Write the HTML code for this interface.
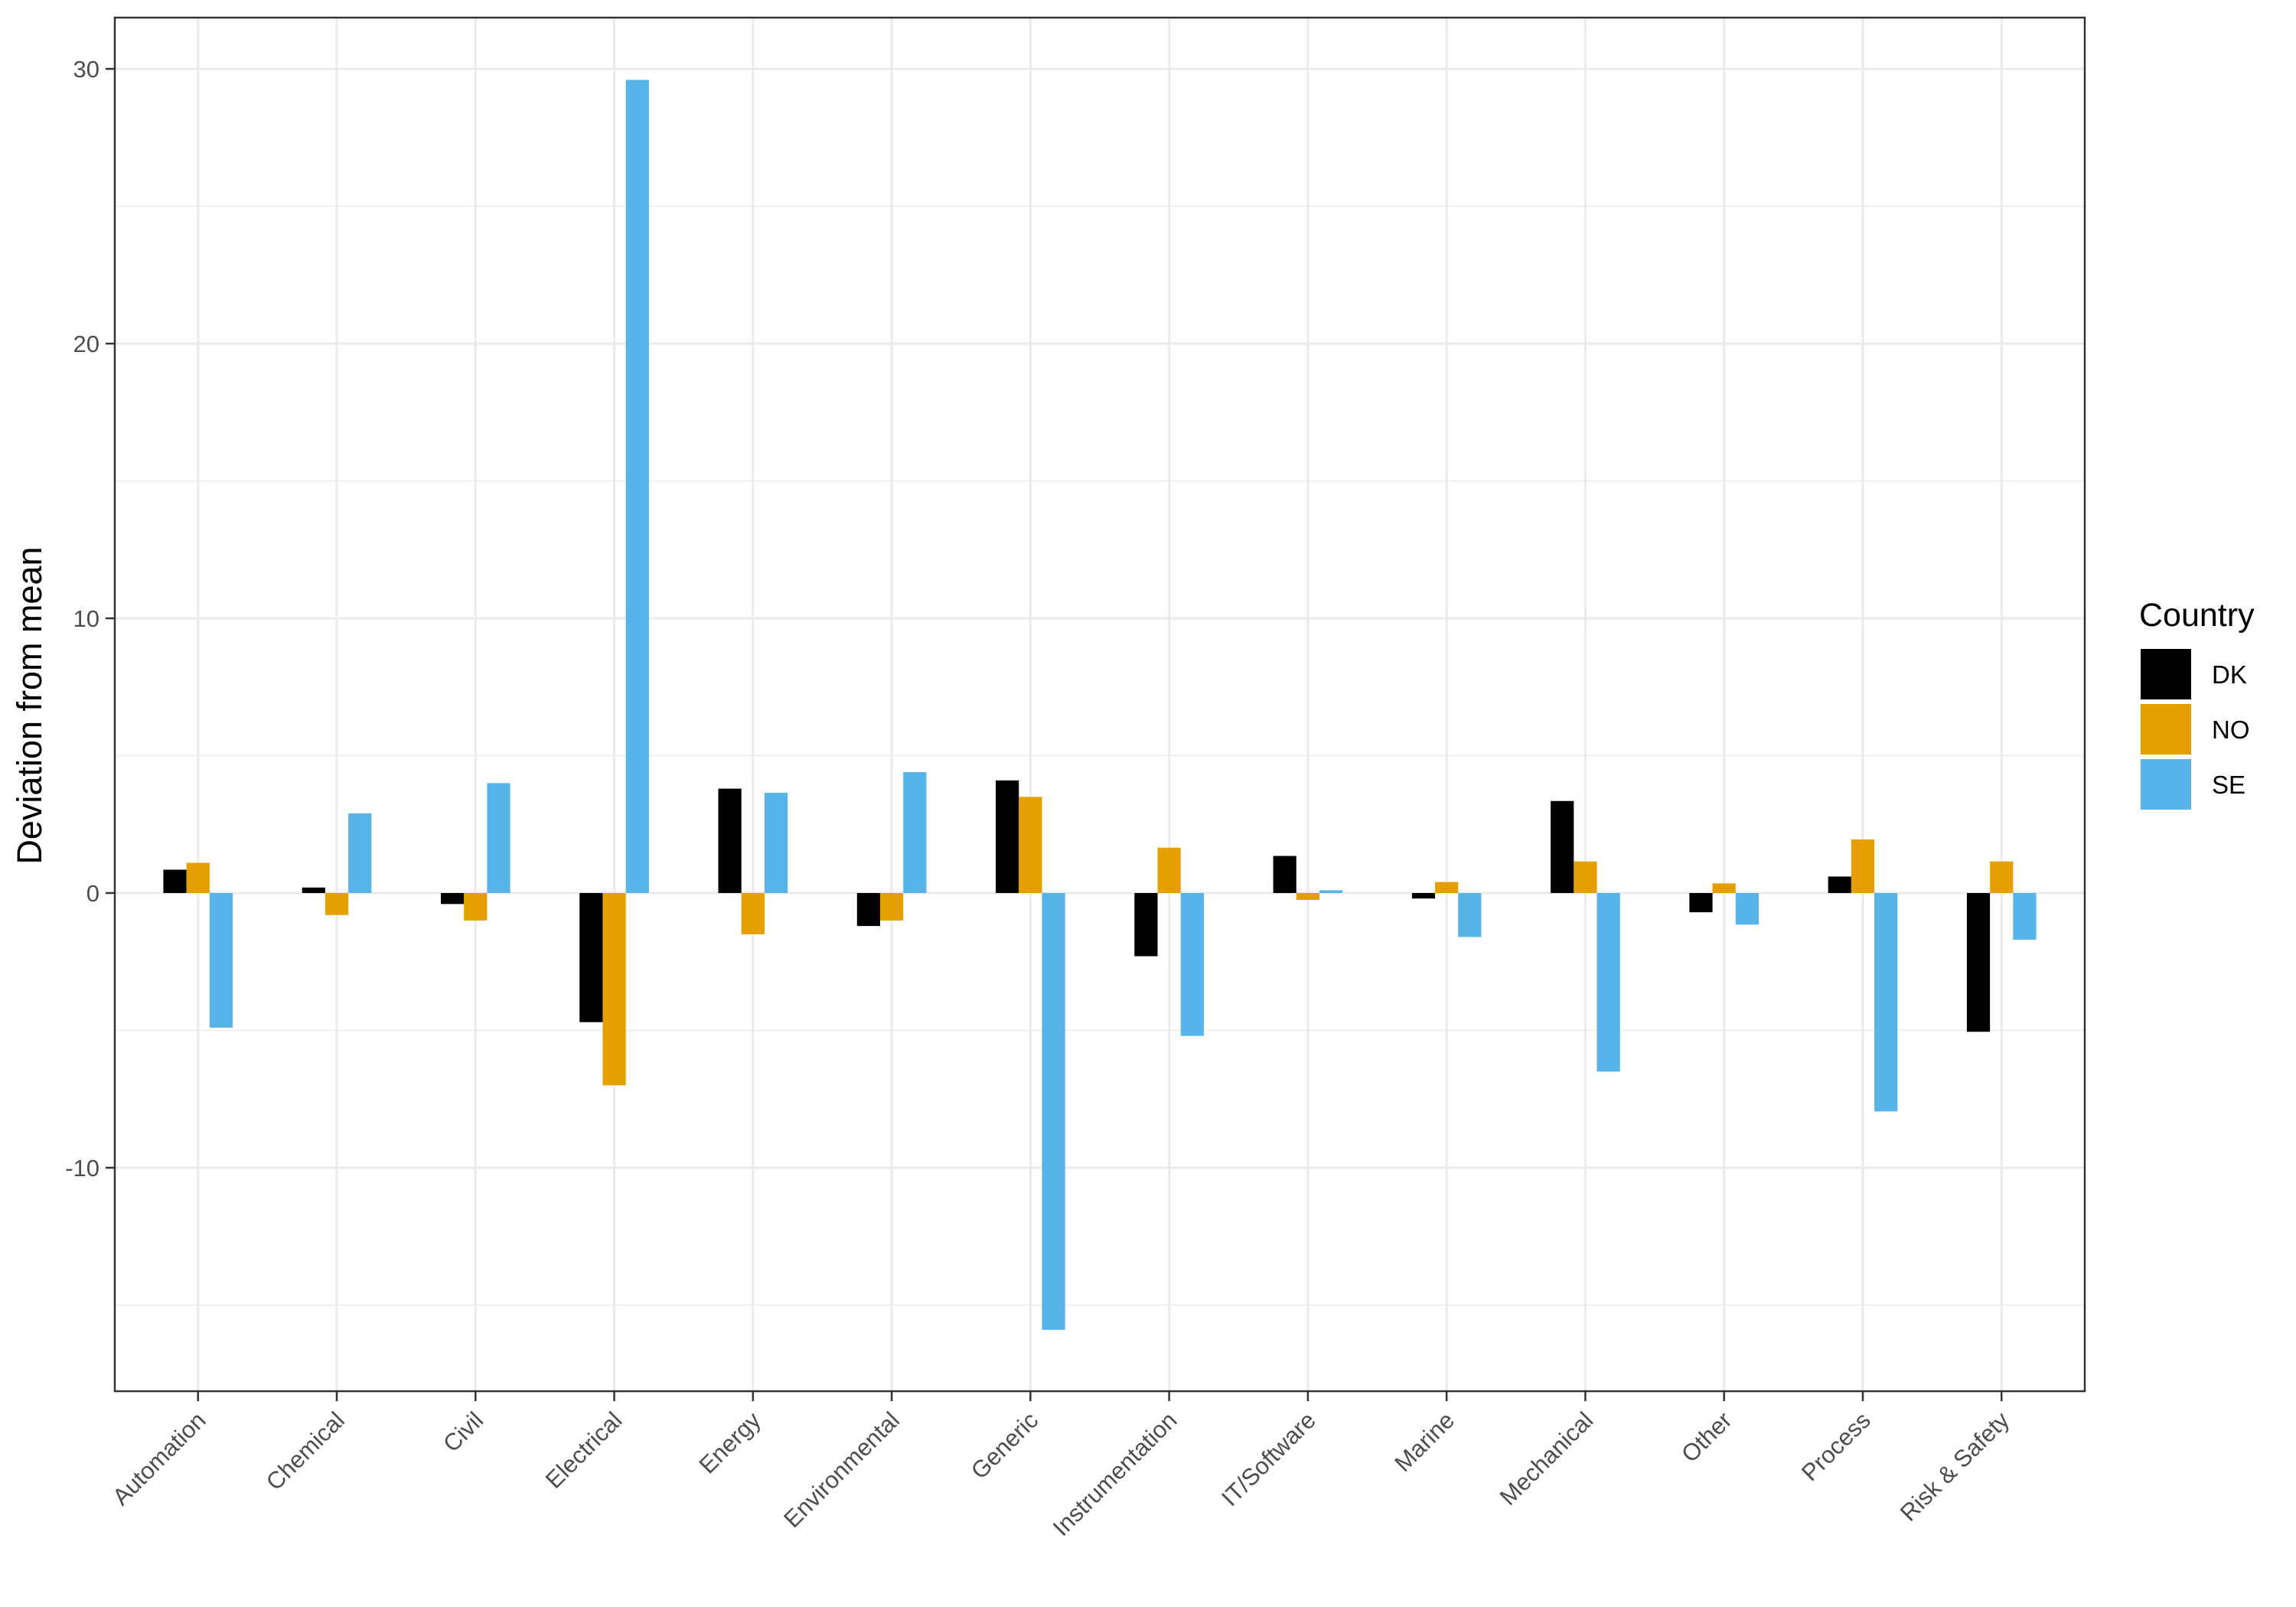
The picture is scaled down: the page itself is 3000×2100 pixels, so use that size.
<!DOCTYPE html>
<html><head><meta charset="utf-8"><style>
html,body{margin:0;padding:0;background:#fff;}
svg{display:block;font-family:"Liberation Sans",Arial,sans-serif;}
</style></head><body>
<svg id="chart" width="3000" height="2100" viewBox="0 0 3000 2100" xmlns="http://www.w3.org/2000/svg">
<rect x="0" y="0" width="3000" height="2100" fill="#fff"/>
<g id="grid"></g>
<g id="bars"></g>
<rect x="150" y="23" width="2574" height="1795" fill="none" stroke="#333" stroke-width="2.5"/>
<g id="axes"></g>
<text transform="translate(54,922) rotate(-90)" text-anchor="middle" font-size="45" fill="#000">Deviation from mean</text>
<g>
<text x="2795" y="818" font-size="43" fill="#000">Country</text>
<rect x="2797" y="848" width="66" height="66" fill="#000000"/>
<text x="2890" y="893" font-size="33" fill="#000">DK</text>
<rect x="2797" y="920" width="66" height="66" fill="#E69F00"/>
<text x="2890" y="965" font-size="33" fill="#000">NO</text>
<rect x="2797" y="992" width="66" height="66" fill="#56B4E9"/>
<text x="2890" y="1037" font-size="33" fill="#000">SE</text>
</g>
</svg>
<script>
const categories = ["Automation","Chemical","Civil","Electrical","Energy","Environmental","Generic","Instrumentation","IT/Software","Marine","Mechanical","Other","Process","Risk & Safety"];
const seriesNames = ["DK","NO","SE"];
const dkValues = [0.85,0.2,-0.4,-4.7,3.8,-1.2,4.1,-2.3,1.35,-0.2,3.35,-0.7,0.6,-5.05];
const noValues = [1.1,-0.8,-1.0,-7.0,-1.5,-1.0,3.5,1.65,-0.25,0.4,1.15,0.35,1.95,1.15];
const seValues = [-4.9,2.9,4.0,29.6,3.65,4.4,-15.9,-5.2,0.1,-1.6,-6.5,-1.15,-7.95,-1.7];
const yMajorTicks = [-10,0,10,20,30];
const yMinorTicks = [-15,-5,5,15,25];
const yTickLabels = ["-10","0","10","20","30"];
const seriesColors = ["#000000","#E69F00","#56B4E9"];

const NS="http://www.w3.org/2000/svg";
const L=150,R=2724,T=23,B=1818;
const unit=(R-L)/(categories.length-1+1.2);
function xScale(i){return L+0.6*unit+i*unit;}
function yScale(v){return 1167 - v*35.9;}
function mk(tag,attrs,parent){const e=document.createElementNS(NS,tag);for(const k in attrs)e.setAttribute(k,attrs[k]);parent.appendChild(e);return e;}
const grid=document.getElementById('grid'),bars=document.getElementById('bars'),axes=document.getElementById('axes');
yMinorTicks.forEach(v=>{const l=mk('line',{x1:L,x2:R,y1:yScale(v),y2:yScale(v),stroke:'#EBEBEB','stroke-width':1.5},grid);

});
yMajorTicks.forEach((v,i)=>{const y=yScale(v);
const l=mk('line',{x1:L,x2:R,y1:y,y2:y,stroke:'#EBEBEB','stroke-width':3},grid);


const t=mk('line',{x1:L-12,x2:L,y1:y,y2:y,stroke:'#333','stroke-width':2.5},axes);


const tx=mk('text',{x:L-20,y:y+11,'text-anchor':'end','font-size':31,fill:'#4D4D4D'},axes);
tx.textContent=yTickLabels[i];

});
const series=[dkValues,noValues,seValues];
const bw=unit*0.5/3;
categories.forEach((c,i)=>{const x=xScale(i);
const g=mk('line',{x1:x,x2:x,y1:T,y2:B,stroke:'#EBEBEB','stroke-width':3},grid);


const t=mk('line',{x1:x,x2:x,y1:B,y2:B+13,stroke:'#333','stroke-width':2.5},axes);


const tx=mk('text',{transform:`translate(${x+12},${B+40}) rotate(-45)`,'text-anchor':'end','font-size':31,fill:'#4D4D4D'},axes);
tx.textContent=c;


series.forEach((vals,s)=>{const v=vals[i];const y0=yScale(0),y1=yScale(v);
const r=mk('rect',{x:x-unit*0.25+s*bw,y:Math.min(y0,y1),width:bw,height:Math.abs(y1-y0),fill:seriesColors[s]},bars);

});
});
</script>
</body></html>
